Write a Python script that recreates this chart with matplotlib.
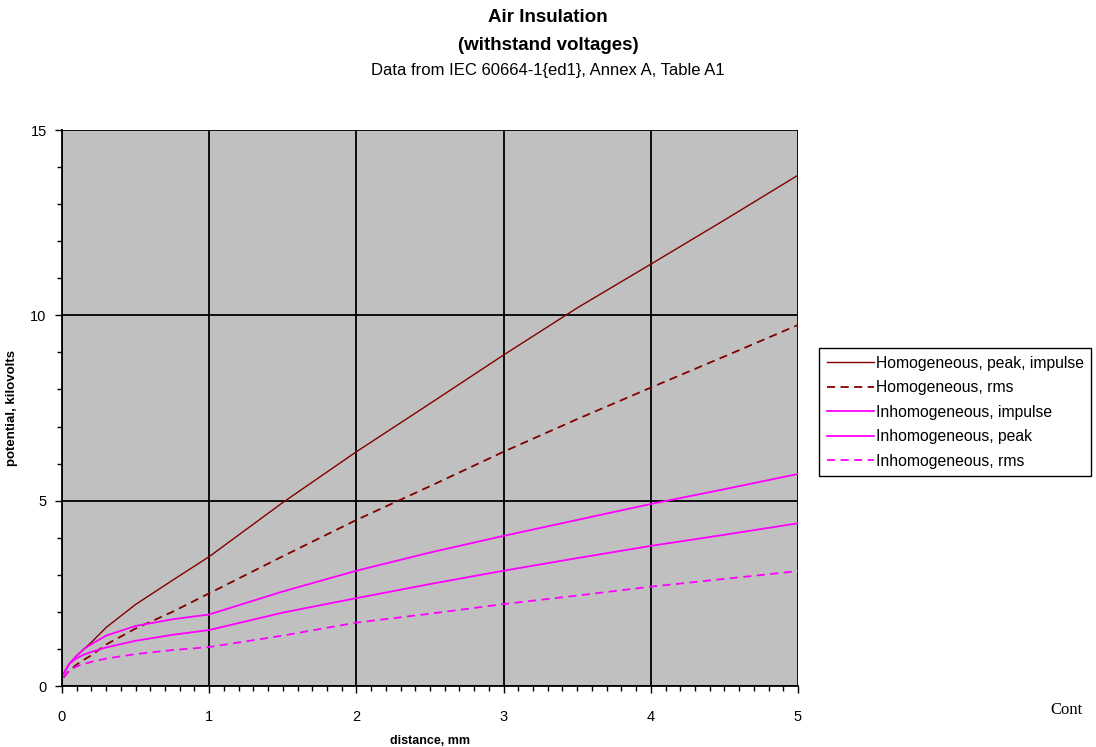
import matplotlib
matplotlib.use("Agg")
import matplotlib.pyplot as plt
from matplotlib.ticker import MultipleLocator

# distance in mm, potentials in kV
distance = [0.01, 0.05, 0.1, 0.15, 0.2, 0.3, 0.5, 0.75, 1, 1.5, 2, 2.5, 3, 3.5, 4, 4.5, 5]
hom_peak = [0.33, 0.6, 0.82, 1.0, 1.18, 1.58, 2.2, 2.85, 3.49, 4.95, 6.32, 7.62, 8.93, 10.2, 11.38, 12.57, 13.78]
hom_rms = [0.23, 0.42, 0.58, 0.71, 0.83, 1.12, 1.55, 2.0, 2.5, 3.5, 4.48, 5.39, 6.32, 7.2, 8.05, 8.89, 9.74]
inh_impulse = [0.33, 0.6, 0.82, 1.0, 1.13, 1.36, 1.62, 1.8, 1.93, 2.55, 3.11, 3.6, 4.05, 4.48, 4.91, 5.31, 5.72]
inh_peak = [0.33, 0.6, 0.75, 0.85, 0.92, 1.04, 1.22, 1.38, 1.51, 1.98, 2.37, 2.75, 3.11, 3.45, 3.78, 4.08, 4.39]
inh_rms = [0.23, 0.42, 0.53, 0.6, 0.65, 0.74, 0.86, 0.97, 1.05, 1.36, 1.71, 1.95, 2.21, 2.44, 2.68, 2.89, 3.1]

labels = ["Homogeneous, peak, impulse", "Homogeneous, rms", "Inhomogeneous, impulse",
          "Inhomogeneous, peak", "Inhomogeneous, rms"]

plt.rcParams['font.family'] = ['Liberation Sans', 'DejaVu Sans']

fig = plt.figure(figsize=(10.96, 7.47), dpi=100)
ax = fig.add_axes([62 / 1096, 61 / 747, 736 / 1096, 556 / 747])
ax.set_facecolor('#c0c0c0')

dark_red = '#800000'
magenta = '#ff00ff'
ax.plot(distance, hom_peak, color=dark_red, lw=1.0, label=labels[0])
ax.plot(distance, hom_rms, color=dark_red, lw=1.3, dashes=(4.5, 3), label=labels[1])
ax.plot(distance, inh_impulse, color=magenta, lw=1.3, label=labels[2])
ax.plot(distance, inh_peak, color=magenta, lw=1.3, label=labels[3])
ax.plot(distance, inh_rms, color=magenta, lw=1.3, dashes=(4.5, 3), label=labels[4])

ax.set_xlim(0, 5)
ax.set_ylim(0, 15)
ax.xaxis.set_major_locator(MultipleLocator(1))
ax.xaxis.set_minor_locator(MultipleLocator(0.1))
ax.yaxis.set_major_locator(MultipleLocator(5))
ax.yaxis.set_minor_locator(MultipleLocator(1))
ax.grid(True, which='major', color='black', lw=1.3)
ax.set_axisbelow(True)
for s in ['top', 'right']:
    ax.spines[s].set_visible(False)
for s in ['left', 'bottom']:
    ax.spines[s].set_linewidth(1.3)
ax.tick_params(which='major', direction='out', length=5, width=1, labelsize=10.5)
ax.tick_params(which='minor', direction='out', length=3.5, width=1)
ax.tick_params(axis='x', which='major', pad=12)
ax.tick_params(axis='y', which='major', pad=6)

ax.set_xlabel('distance, mm', fontsize=9, fontweight='bold', labelpad=8)
ax.set_ylabel('potential, kilovolts', fontsize=9.5, fontweight='bold', labelpad=9)

fig.text(0.5, 1 - 18 / 747, 'Air Insulation', ha='center', va='center', fontsize=13.5, fontweight='bold')
fig.text(0.5, 1 - 45 / 747, '(withstand voltages)', ha='center', va='center', fontsize=13.5, fontweight='bold')
fig.text(0.5, 1 - 70 / 747, 'Data from IEC 60664-1{ed1}, Annex A, Table A1', ha='center', va='center', fontsize=12)

leg = fig.legend(loc='upper left', bbox_to_anchor=(819 / 1096, 1 - 348 / 747), fontsize=11.3,
                 frameon=True, fancybox=False, framealpha=1, edgecolor='black',
                 handlelength=3.0, handletextpad=0.1, labelspacing=0.6, borderpad=0.5,
                 borderaxespad=0)
leg.get_frame().set_linewidth(1.0)

fig.text(1050 / 1096, 1 - 710 / 747, 'Cont', ha='left', va='center', fontsize=12,
         family=['Liberation Serif', 'DejaVu Serif'])

fig.savefig('out.png', dpi=100)
